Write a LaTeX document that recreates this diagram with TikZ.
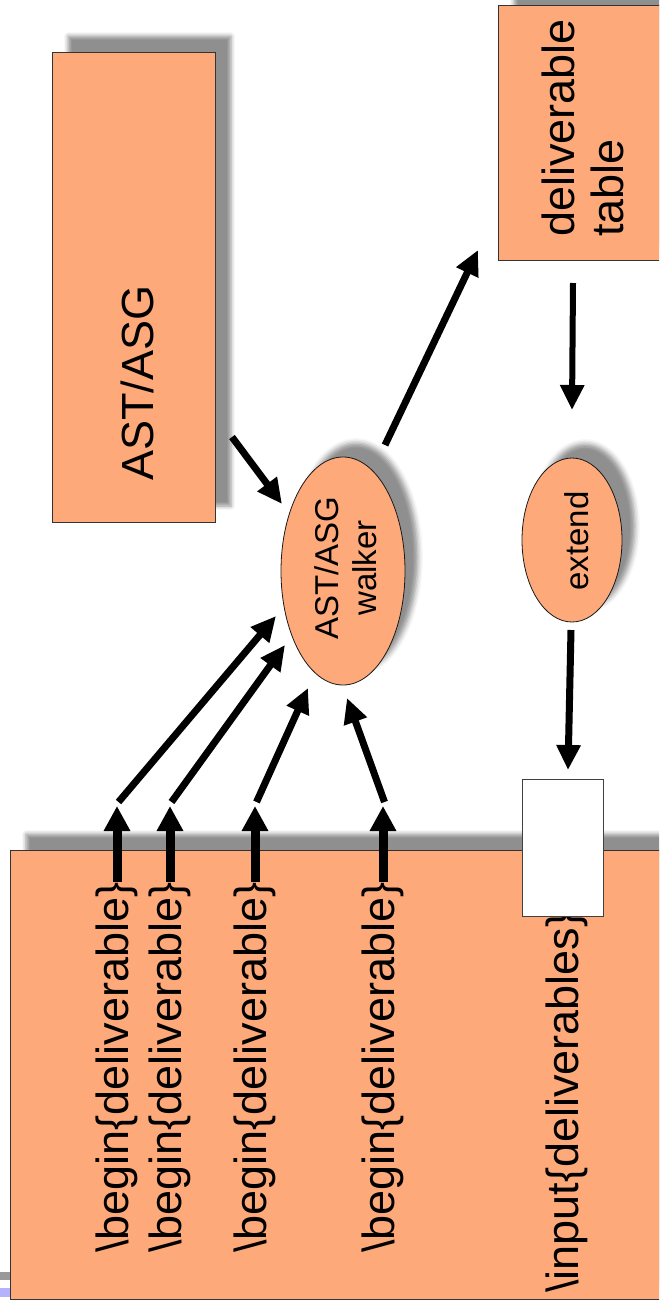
\documentclass[tikz,border=0pt]{standalone}
\usepackage{fontspec}
\setmainfont{Liberation Sans}
\usepackage{tikz}
\usetikzlibrary{arrows.meta, shapes.geometric, shadows.blur}
\definecolor{salmon}{RGB}{253,169,122}
\newcommand{\bigtxt}{\fontsize{45}{49}\selectfont}
\newcommand{\midtxt}{\fontsize{33}{38}\selectfont}

\begin{document}
\begin{tikzpicture}[x=1pt, y=-1pt,
        box/.style={draw=black!80, fill=salmon, line width=0.8pt, inner sep=0pt,
            blur shadow={shadow xshift=16pt, shadow yshift=16pt, shadow blur radius=4pt, shadow opacity=44}},
        oval/.style={ellipse, draw=black!90, fill=salmon, line width=0.8pt, inner sep=0pt,
            blur shadow={shadow xshift=13pt, shadow yshift=14pt, shadow blur radius=5pt, shadow opacity=44}},
        txt/.style={rotate=90, inner sep=0pt},
        arr/.style={line width=7pt, -{Triangle[length=25pt, width=23pt]}},
        stub/.style={line width=9pt, -{Triangle[length=25pt, width=25pt]}}]
    \useasboundingbox (0,0) rectangle (659,1309);
    \clip (0,0) rectangle (659,1309);

    \fill[black!40] (0,1272) rectangle (11,1280);
    \fill[blue!30] (0,1288) rectangle (11,1297);

    \node[box, minimum width=163pt, minimum height=470pt] (ast) at (133.5,287) {};
    \node[box, minimum width=220pt, minimum height=255pt] (table) at (608,132.5) {};
    \node[box, minimum width=700pt, minimum height=449pt] (src) at (360,1074.5) {};
    \node[oval, minimum width=124pt, minimum height=228pt] (walker) at (343,571) {};
    \node[oval, minimum width=100pt, minimum height=164pt] (extend) at (572,540) {};

    \node[txt, font=\bigtxt] (astlbl) at (137,383) {AST/ASG};
    \node[txt, font=\bigtxt, align=left] (tablelbl) at (583,128) {deliverable\\table};
    \node[txt, font=\midtxt, align=center] (walkerlbl) at (346,568) {AST/ASG\\walker};
    \node[txt, font=\midtxt] (extendlbl) at (577,541) {extend};
    \node[txt, font=\bigtxt, anchor=west] (inp) at (567,1293) {\textbackslash input\{deliverables\}};

    \node[draw=black!75, fill=white, line width=0.8pt, inner sep=0pt,
        minimum width=81pt, minimum height=137pt] (slot) at (562.5,847.5) {};

    \coordinate (ast out) at (232,437);
    \coordinate (walker in) at (282,504);
    \coordinate (walker out) at (385,445);
    \coordinate (table in) at (478,250);
    \coordinate (table out) at (573,283);
    \coordinate (extend in) at (572,410);
    \coordinate (extend out) at (571,630);
    \coordinate (slot in) at (568,770);

    \draw[arr] (ast out) -- (walker in);
    \draw[arr] (walker out) -- (table in);
    \draw[arr, line width=6pt] (table out) -- (extend in);
    \draw[arr] (extend out) -- (slot in);

    \foreach \n/\x/\tx/\ty in {1/117/276/616, 2/170/285/645, 3/255/308/688, 4/383/347/698} {
        \node[txt, font=\bigtxt, anchor=west] (b\n) at (\x,1253) {\textbackslash begin\{deliverable\}};
        \coordinate (tip\n) at (\x,806);
        \coordinate (hit\n) at (\tx,\ty);
        \draw[stub] (b\n.east) -- (tip\n);
        \draw[arr] ([xshift=1.5pt, yshift=4pt]tip\n) -- (hit\n);
    }
\end{tikzpicture}
\end{document}
